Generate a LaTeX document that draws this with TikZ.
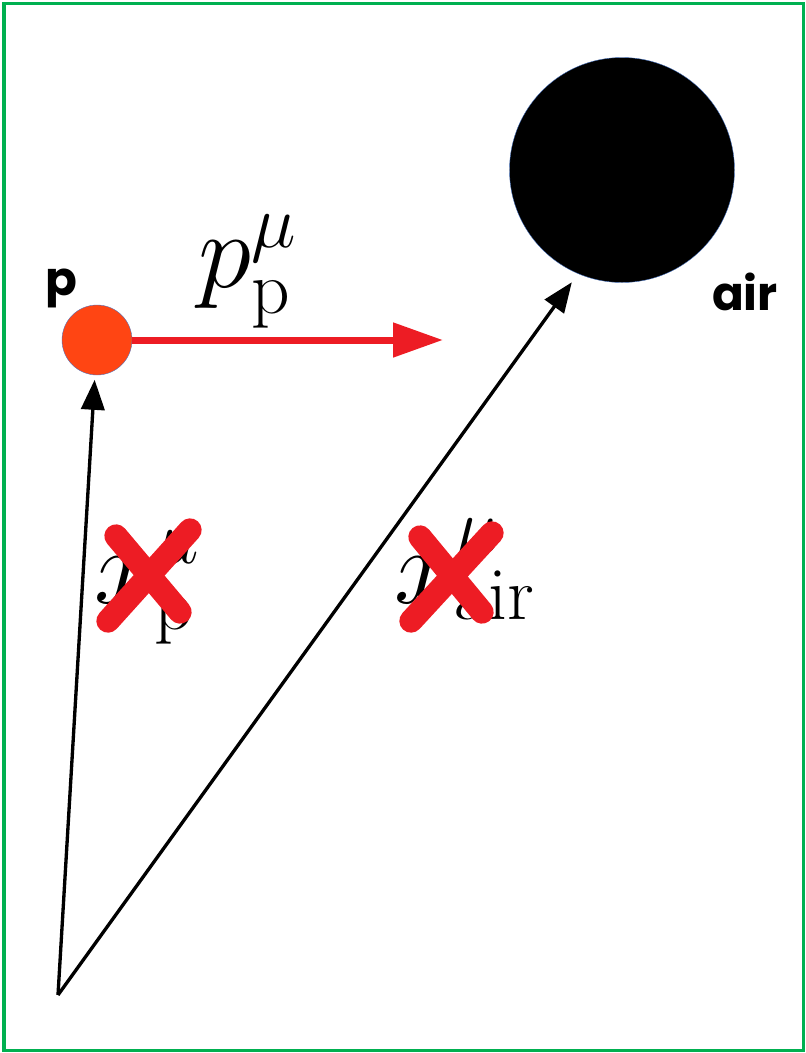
\RequirePackage{fix-cm}
\documentclass[tikz,border=0pt]{standalone}
\usepackage{fontspec}
\usepackage{amsmath}
\usepackage{tikz}
\usetikzlibrary{arrows.meta,positioning,calc}
\newfontfamily\tagfont{Poppins}
\definecolor{framegreen}{RGB}{0,176,80}
\definecolor{arrowred}{RGB}{237,28,36}
\definecolor{protonfill}{RGB}{255,69,19}
\definecolor{rimblue}{RGB}{68,114,196}

\begin{document}
\begin{tikzpicture}[
    x=0.03cm, y=-0.03cm,
    particle/.style={circle, draw=rimblue, line width=0.3pt, inner sep=0pt},
    tag/.style={font=\tagfont\bfseries\fontsize{40}{40}\selectfont, inner sep=0pt},
    vec/.style={-{Triangle[length=9mm, width=7mm]}, line width=1mm},
    momentum/.style={-{Triangle[length=15mm, width=10mm]}, line width=2.1mm, arrowred},
    mathlabel/.style={font=\fontsize{92}{92}\selectfont, inner sep=0pt, anchor=base west},
    strike/.style={line width=7mm, line cap=round, arrowred}
]
\useasboundingbox (0,0) rectangle (806,1053);

% frame
\draw[framegreen, line width=0.9mm] (4,3) rectangle (803,1050);

% particles
\node[particle, fill=protonfill, minimum size=21mm] (pp) at (97,340) {};
\node[particle, fill=black, minimum size=67.5mm] (air) at (622,170) {};
\node[tag] (ptag) at (61,288) {p};
\node[tag] (airtag) at (745,292) {air};

% momentum
\coordinate (pend) at (443,340);
\draw[momentum] (pp) -- (pend);
\node[mathlabel] (plab) at (198,287) {$p_{\mathrm{p}}^{\mu}$};

% position vectors
\coordinate (o) at (58,995);
\draw[vec, shorten >=4] (o) -- (pp);
\draw[vec, shorten >=9] (o) -- (air.247);
\node[mathlabel] (xplab) at (94,603) {$x_{\mathrm{p}}^{\mu}$};
\node[mathlabel] (xairlab) at (394,603) {$x_{\mathrm{air}}^{\mu}$};

% crossed out
\draw[strike] (116,536) -- (180,612);
\draw[strike] (190,530) -- (108,621);
\draw[strike] (420,537) -- (482,612);
\draw[strike] (492,533) -- (411,621);

\end{tikzpicture}
\end{document}
